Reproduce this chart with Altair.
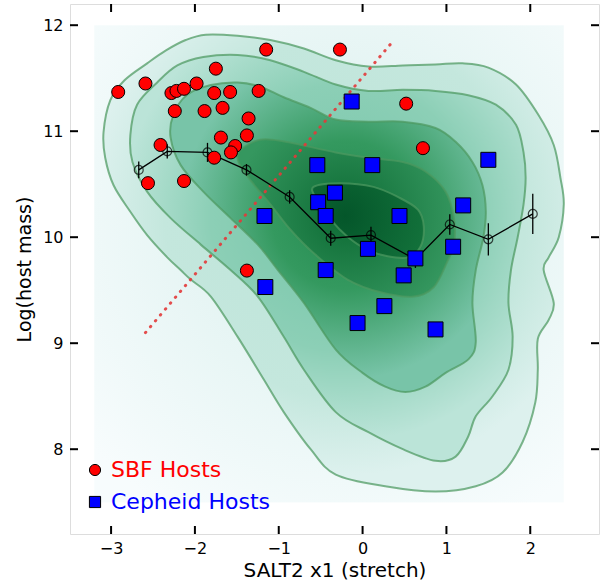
import altair as alt
import pandas as pd

# ---------------- data ----------------
sbf_x = [-2.915, -2.59, -2.28, -2.22, -2.13, -1.98, -1.75, -1.77, -1.58, -1.15, -1.24,
         -2.24, -1.885, -1.67, -1.36, -1.38, -1.69, -1.52, -1.57, -2.41, -1.77, -2.56,
         -2.13, -0.27, -1.38, 0.52, 0.72]
sbf_y = [11.37, 11.45, 11.36, 11.38, 11.40, 11.45, 11.59, 11.36, 11.37, 11.77, 11.38,
         11.19, 11.19, 11.22, 11.12, 10.96, 10.94, 10.86, 10.80, 10.87, 10.75, 10.51,
         10.53, 11.77, 9.685, 11.26, 10.84]

cep_x = [-0.54, 0.116, 1.50, -0.33, -0.53, -0.44, 0.44, 1.20, 0.064, 0.63, 1.08,
         0.49, -0.44, 0.26, -0.06, 0.87, -0.13, -1.16, -1.17]
cep_y = [10.68, 10.68, 10.73, 10.42, 10.33, 10.20, 10.20, 10.30, 9.89, 9.80, 9.91,
         9.64, 9.69, 9.35, 9.19, 9.13, 11.28, 9.53, 10.20]

bin_x = [-2.67, -2.33, -1.85, -1.385, -0.87, -0.38, 0.10, 0.63, 1.04, 1.50, 2.03]
bin_y = [10.635, 10.81, 10.80, 10.635, 10.38, 9.99, 10.02, 9.79, 10.12, 9.98, 10.22]
bin_err = [0.078, 0.067, 0.09, 0.055, 0.063, 0.07, 0.078, 0.08, 0.097, 0.152, 0.19]

cut_x = [-2.59, 0.375]
cut_y = [9.10, 11.86]

img_x = [-3.2, 2.4]
img_y = [7.5, 12.0]

c1_x = [-3.09, -3.01, -2.84, -2.57, -2.35, -2.11, -1.87, -1.49, -1.10, -0.70, -0.32, 0.07,
        0.48, 0.87, 1.19, 1.50, 1.83, 2.10, 2.28, 2.36, 2.40, 2.34, 2.22, 2.16, 2.28, 2.22,
        2.09, 2.09, 2.06, 1.91, 1.67, 1.35, 0.87, 0.27, -0.32, -0.62, -0.94, -1.18, -1.49,
        -1.81, -2.05, -2.17, -2.33, -2.57, -2.77, -2.97, -3.07]
c1_y = [10.99, 11.29, 11.48, 11.64, 11.76, 11.86, 11.91, 11.90, 11.86, 11.78, 11.67, 11.61,
        11.62, 11.63, 11.64, 11.60, 11.44, 11.15, 10.87, 10.56, 10.31, 10.00, 9.81, 9.69,
        9.38, 9.22, 9.04, 8.75, 8.44, 8.07, 7.78, 7.65, 7.60, 7.65, 7.76, 8.00, 8.35, 8.66,
        9.06, 9.44, 9.60, 9.69, 9.81, 10.02, 10.24, 10.49, 10.75]

c2_x = [-2.77, -2.69, -2.45, -2.21, -1.90, -1.49, -1.10, -0.70, -0.32, 0.07, 0.48, 0.87,
        1.26, 1.59, 1.83, 1.92, 1.945, 1.92, 1.85, 1.77, 1.74, 1.79, 1.74, 1.55, 1.35, 1.26,
        1.11, 0.87, 0.48, 0.07, -0.32, -0.70, -0.94, -1.25, -1.575, -1.93, -2.29, -2.57,
        -2.745]
c2_y = [10.965, 11.25, 11.46, 11.62, 11.70, 11.72, 11.67, 11.56, 11.44, 11.38, 11.39, 11.38,
        11.34, 11.25, 11.06, 10.80, 10.56, 10.31, 10.00, 9.69, 9.38, 9.06, 8.75, 8.50, 8.31,
        8.12, 7.93, 7.89, 8.00, 8.16, 8.35, 8.75, 9.06, 9.44, 9.69, 9.93, 10.18, 10.43,
        10.71]

c3_x = [-2.29, -2.26, -2.10, -1.81, -1.49, -1.22, -0.94, -0.62, -0.32, 0.07, 0.48, 0.87,
        1.11, 1.31, 1.43, 1.47, 1.44, 1.35, 1.31, 1.35, 1.265, 0.99, 0.75, 0.51, 0.27, 0.00,
        -0.32, -0.70, -1.01, -1.25, -1.575, -1.90, -2.17]
c3_y = [10.94, 11.15, 11.34, 11.435, 11.46, 11.42, 11.32, 11.22, 11.11, 11.09, 11.09, 11.03,
        10.90, 10.71, 10.49, 10.24, 9.995, 9.69, 9.38, 9.01, 8.85, 8.72, 8.59, 8.54, 8.59,
        8.72, 8.94, 9.38, 9.69, 9.93, 10.18, 10.43, 10.68]

c4_x = [-1.46, -1.22, -0.92, -0.32, 0.07, 0.48, 0.75, 0.99, 1.09, 1.09, 1.01, 0.85, 0.61,
        0.215, -0.18, -0.585, -0.86, -1.10, -1.34, -1.48]
c4_y = [10.82, 10.92, 10.90, 10.80, 10.75, 10.71, 10.62, 10.43, 10.18, 9.93, 9.77, 9.53,
        9.44, 9.48, 9.60, 9.85, 10.07, 10.31, 10.54, 10.71]

c5_x = [-0.585, -0.26, 0.13, 0.42, 0.66, 0.73, 0.69, 0.54, 0.30, 0.06, -0.18, -0.38, -0.54]
c5_y = [10.475, 10.51, 10.475, 10.38, 10.26, 10.10, 9.91, 9.81, 9.82, 9.88, 10.005, 10.165,
        10.35]

x_ticks = [-3, -2, -1, 0, 1, 2]
y_ticks = [8, 9, 10, 11, 12]
hosts = ["SBF Hosts", "Cepheid Hosts"]

# ---------------- tables ----------------
contours = [(c1_x, c1_y), (c2_x, c2_y), (c3_x, c3_y), (c4_x, c4_y), (c5_x, c5_y)]
cont_frames = []
for k, (cx, cy) in enumerate(contours):
    cont_frames.append(pd.DataFrame({"x": cx, "y": cy, "i": list(range(len(cx))), "lev": k}))
cont_all = pd.concat(cont_frames, ignore_index=True)

sbf_df = pd.DataFrame({"x": sbf_x, "y": sbf_y, "host": hosts[0]})
cep_df = pd.DataFrame({"x": cep_x, "y": cep_y, "host": hosts[1]})
bin_df = pd.DataFrame({"x": bin_x, "y": bin_y})
err_df = pd.DataFrame({"x": bin_x,
                       "y": [m - e for m, e in zip(bin_y, bin_err)],
                       "y2": [m + e for m, e in zip(bin_y, bin_err)]})
cut_df = pd.DataFrame({"x": cut_x, "y": cut_y})
img_df = pd.DataFrame({"x": [img_x[0]], "x2": [img_x[1]], "y": [img_y[0]], "y2": [img_y[1]]})
xt_df = pd.DataFrame({"x": x_ticks})
yt_df = pd.DataFrame({"y": y_ticks})

FONT = "DejaVu Sans"
xs = alt.Scale(domain=[-3.49, 2.82], nice=False, zero=False)
ys = alt.Scale(domain=[7.2, 12.2], nice=False, zero=False)
xaxis = alt.Axis(values=x_ticks, ticks=False, domain=False, grid=False, labelFontSize=16,
                 labelFont=FONT, labelColor="black", labelPadding=6,
                 title="SALT2 x1 (stretch)", titleFontSize=20, titleFont=FONT,
                 titleFontWeight="normal", titleColor="black", titlePadding=4)
yaxis = alt.Axis(values=y_ticks, ticks=False, domain=False, grid=False, labelFontSize=16,
                 labelFont=FONT, labelColor="black", labelPadding=7,
                 title="Log(host mass)", titleFontSize=19, titleFont=FONT,
                 titleFontWeight="normal", titleColor="black", titlePadding=8)
X = alt.X("x:Q", scale=xs, axis=xaxis)
Y = alt.Y("y:Q", scale=ys, axis=yaxis)


def radial(u, v, r, stops):
    return alt.RadialGradient(
        gradient="radial", x1=u, y1=v, r1=0, x2=u, y2=v, r2=r,
        stops=[alt.GradientStop(offset=o, color=c) for o, c in stops])


bg = alt.Chart(img_df).mark_rect(
    fill=radial(0.535, 0.40, 0.72, [(0, "#d8efec"), (1, "#f7fcfd")])
).encode(x=X, x2="x2:Q", y=Y, y2="y2:Q")

grads = [
    radial(0.526, 0.40, 0.56, [(0, "#bde4d9"), (0.7, "#c4e7dd"), (1, "#ddf1ee")]),
    radial(0.543, 0.40, 0.55, [(0, "#76c5a9"), (0.6, "#8ccfb6"), (1, "#bbe4d8")]),
    radial(0.556, 0.43, 0.52, [(0, "#23894f"), (0.45, "#34995f"), (1, "#78c4a8")]),
    radial(0.50, 0.49, 0.52, [(0, "#0d6b34"), (1, "#35975f")]),
    radial(0.295, 0.46, 0.70, [(0, "#04562a"), (1, "#12703a")]),
]
fills = []
for k, g in enumerate(grads):
    fills.append(
        alt.Chart(cont_frames[k]).mark_line(interpolate="cardinal-closed", fill=g,
                                            strokeOpacity=0)
        .encode(x=X, y=Y, order="i:Q")
    )

lines = alt.Chart(cont_all).mark_line(
    interpolate="cardinal-closed", color="#4c9960", strokeWidth=2, opacity=0.72
).encode(x=X, y=Y, detail="lev:N", order="i:Q")

cut = alt.Chart(cut_df).mark_line(
    color="#e23a3a", strokeWidth=3, strokeDash=[0.5, 7.2], strokeCap="round", opacity=0.9
).encode(x=X, y=Y)

errs = alt.Chart(err_df).mark_rule(color="black", strokeWidth=1.3).encode(x=X, y=Y, y2="y2:Q")
mean_line = alt.Chart(bin_df).mark_line(color="black", strokeWidth=1.3).encode(x=X, y=Y)
mean_pts = alt.Chart(bin_df).mark_point(
    shape="circle", filled=False, color="black", strokeWidth=1.2, size=80
).encode(x=X, y=Y)

legend = alt.Legend(orient="none", legendX=14, legendY=455, title=None, padding=0,
                    labelFontSize=22, labelFont=FONT,
                    labelColor=alt.ExprRef("datum.label == 'SBF Hosts' ? '#ff0000' : '#0000ff'"),
                    symbolSize=125, symbolStrokeColor="black", symbolStrokeWidth=1,
                    labelOffset=5, rowPadding=10)
fill_enc = alt.Fill("host:N", scale=alt.Scale(domain=hosts, range=["#ff0000", "#0000ff"]),
                    legend=legend)
shape_enc = alt.Shape("host:N", scale=alt.Scale(domain=hosts, range=["circle", "square"]),
                      legend=legend)
stroke_enc = alt.Stroke("host:N", scale=alt.Scale(domain=hosts, range=["#000000", "#000000"]),
                        legend=legend)

sbf = alt.Chart(sbf_df).mark_point(
    filled=True, strokeWidth=1, size=170, opacity=1
).encode(x=X, y=Y, fill=fill_enc, shape=shape_enc, stroke=stroke_enc)
cep = alt.Chart(cep_df).mark_point(
    filled=True, strokeWidth=1, size=225, opacity=1
).encode(x=X, y=Y, fill=fill_enc, shape=shape_enc, stroke=stroke_enc)

W, H = 529, 530
TK = 8
tick_b = alt.Chart(xt_df).mark_rule(color="black", strokeWidth=2).encode(
    x=X, y=alt.value(H), y2=alt.value(H - TK))
tick_t = alt.Chart(xt_df).mark_rule(color="black", strokeWidth=2).encode(
    x=X, y=alt.value(0), y2=alt.value(TK))
tick_l = alt.Chart(yt_df).mark_rule(color="black", strokeWidth=2).encode(
    y=Y, x=alt.value(0), x2=alt.value(TK))
tick_r = alt.Chart(yt_df).mark_rule(color="black", strokeWidth=2).encode(
    y=Y, x=alt.value(W), x2=alt.value(W - TK))

chart = alt.layer(
    bg, *fills, lines, cut, errs, mean_line, mean_pts, sbf, cep,
    tick_b, tick_t, tick_l, tick_r
).properties(
    width=W, height=H,
    autosize=alt.AutoSizeParams(type="none"),
    padding={"left": 70, "top": 4, "right": 1, "bottom": 47},
).configure_view(
    stroke="black", strokeWidth=2.5
).configure(font=FONT, background="white")

chart.save("out.html", embed_options={"renderer": "svg", "actions": False})
